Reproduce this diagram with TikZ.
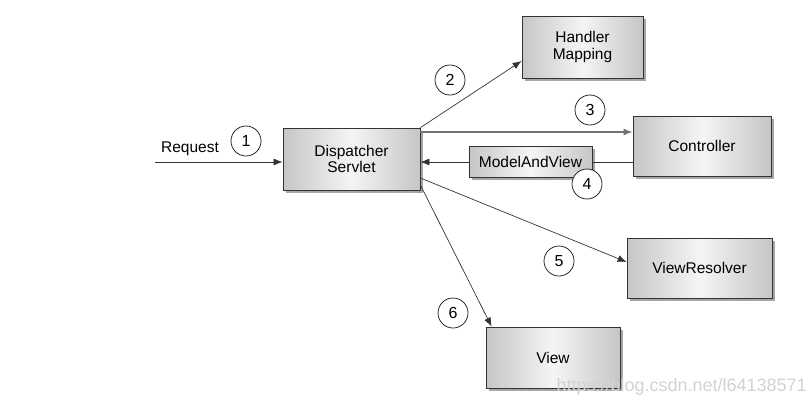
\documentclass[tikz,border=0pt]{standalone}
\usepackage{fontspec}
\setmainfont{Liberation Sans}
\usetikzlibrary{arrows.meta,shadows,calc}
\begin{document}
\begin{tikzpicture}[x=1pt,y=-1pt,
  comp/.style={draw=black!80,line width=0.8pt,left color=gray!45,right color=gray!45,
    middle color=gray!8,drop shadow={shadow xshift=2.5pt,shadow yshift=-2.5pt,fill=gray!70,opacity=1},
    inner sep=0pt,align=center,font=\fontsize{15.5}{16.5}\selectfont},
  stepnum/.style={draw=black!85,line width=0.8pt,circle,minimum size=30pt,inner sep=0pt,
    font=\fontsize{16}{18}\selectfont},
  arr/.style={draw=black!80,line width=0.7pt,-{Latex[length=9pt,width=7pt]}}]
  \useasboundingbox (0,0) rectangle (811,416);
  % boxes
  \node[comp,minimum width=137pt,minimum height=62pt] (ds) at (351.5,159) {Dispatcher\\Servlet};
  \node[comp,minimum width=121pt,minimum height=62pt] (hm) at (582.5,47) {Handler\\Mapping};
  \node[comp,minimum width=138pt,minimum height=60pt] (ctrl) at (702,146) {Controller};
  \node[comp,minimum width=123pt,minimum height=31pt] (mav) at (530.5,162) {ModelAndView};
  \node[comp,minimum width=145pt,minimum height=60pt] (vr) at (699.5,268) {ViewResolver};
  \node[comp,minimum width=134pt,minimum height=61pt] (view) at (553,357.5) {View};
  % request
  \coordinate (req) at (155,162);
  \node[font=\fontsize{15.5}{16.5}\selectfont] (reqlbl) at (190,149) {Request};
  \draw[arr] (req) -- (req -| ds.west);
  % connectors
  \draw[arr] (ds.north east) -- ([yshift=-14pt]hm.west);
  \coordinate (c3) at ([yshift=14pt]ctrl.west);
  \draw[arr,draw=black!55,line width=1.3pt] (ds.east |- c3) -- (c3);
  \draw[draw=black!80,line width=0.7pt] (ctrl.west |- mav) -- (mav.east);
  \draw[arr] (mav.west) -- (mav.west -| ds.east);
  \draw[arr] ([yshift=-19pt]ds.east) -- ([yshift=6pt]vr.west);
  \draw[arr] ([yshift=-26pt]ds.east) -- ([xshift=6pt]view.north west);
  % step numbers
  \node[stepnum] (n1) at (246,141) {1};
  \node[stepnum] (n2) at (450,80) {2};
  \node[stepnum] (n3) at (590,110) {3};
  \node[stepnum,fill=white] (n4) at (587,184) {4};
  \node[stepnum] (n5) at (559,261) {5};
  \node[stepnum] (n6) at (453,313) {6};
  % watermark
  \node[anchor=west,text=gray!35,font=\fontsize{18}{20}\selectfont] (wm) at (553,387) {https://blog.csdn.net/l64138571};
\end{tikzpicture}
\end{document}
